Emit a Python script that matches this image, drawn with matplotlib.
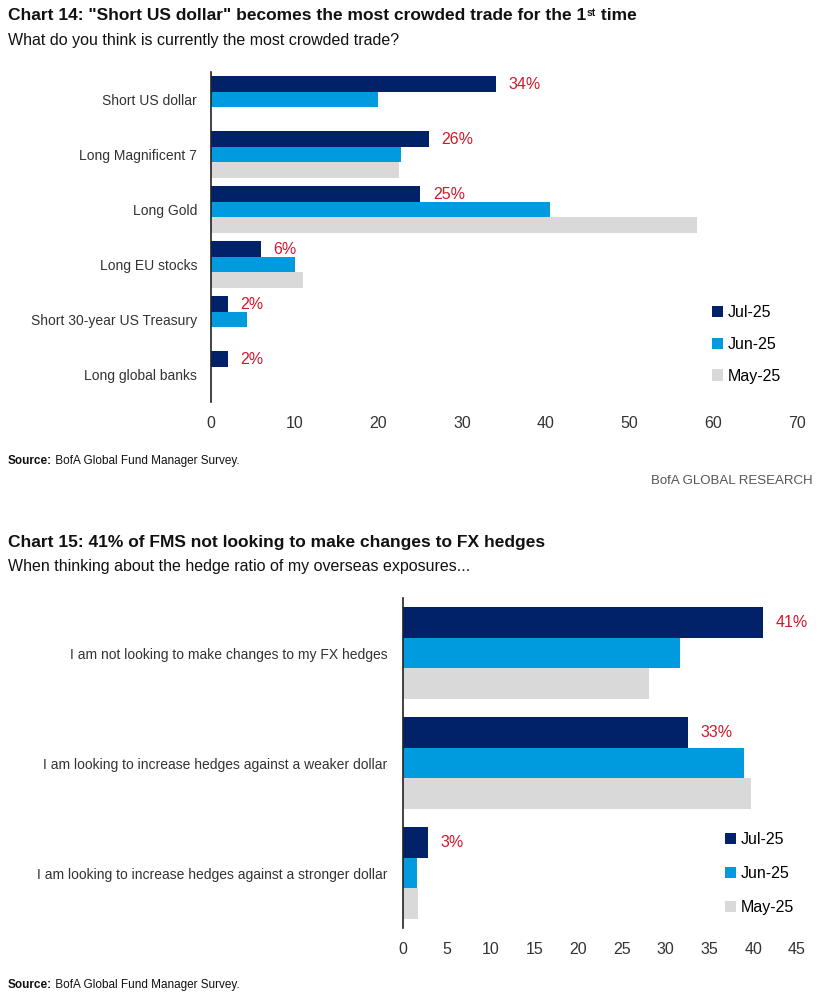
import numpy as np
import matplotlib
matplotlib.use("Agg")
import matplotlib.pyplot as plt

plt.rcParams['font.family'] = ['Liberation Sans', 'DejaVu Sans']

# datos grafico 14
trades = ["Short US dollar", "Long Magnificent 7", "Long Gold", "Long EU stocks",
          "Short 30-year US Treasury", "Long global banks"]
trades_jul = [34, 26, 25, 6, 2, 2]
trades_jun = [20, 22.7, 40.5, 10, 4.3, 0]
trades_may = [0, 22.5, 58, 11, 0, 0]
trades_lbl = ["34%", "26%", "25%", "6%", "2%", "2%"]

# datos grafico 15
hedges = ["I am not looking to make changes to my FX hedges",
          "I am looking to increase hedges against a weaker dollar",
          "I am looking to increase hedges against a stronger dollar"]
hedges_jul = [41.1, 32.6, 2.8]
hedges_jun = [31.6, 39.0, 1.6]
hedges_may = [28.1, 39.7, 1.7]
hedges_lbl = ["41%", "33%", "3%"]

series = ["Jul-25", "Jun-25", "May-25"]
colores = ["#012169", "#009ADE", "#D9D9D9"]
rojo = "#D2182C"
gris = "#333333"
negro = "#111111"

W, H = 820, 994
fig = plt.figure(figsize=(W / 100, H / 100), dpi=100)


def px_axes(l, t, r, b):
    return fig.add_axes([l / W, 1 - b / H, (r - l) / W, (b - t) / H])


def barras(ax, cats, jul, jun, may, lbl, xmax, step, ylab_pad):
    y = np.arange(len(cats))
    h = 0.28
    for k, vals in enumerate([jul, jun, may]):
        ax.barh(y + (k - 1) * h, vals, height=h, color=colores[k], label=series[k])
    for i, v in enumerate(jul):
        ax.annotate(lbl[i], xy=(v, y[i] - h), xytext=(9, 0), textcoords="offset points",
                    va="center", ha="left", color=rojo, fontsize=11.5)
    ax.set_ylim(len(cats) - 0.5, -0.5)
    ax.set_xlim(0, xmax)
    ax.set_xticks(np.arange(0, xmax + 1, step))
    ax.set_yticks(y)
    ax.set_yticklabels(cats)
    ax.tick_params(axis="x", length=0, pad=10, labelsize=11.5, labelcolor=gris)
    ax.tick_params(axis="y", length=0, pad=ylab_pad, labelsize=10, labelcolor=gris)
    for s in ["top", "right", "bottom"]:
        ax.spines[s].set_visible(False)
    ax.spines["left"].set_color("#222222")
    ax.spines["left"].set_linewidth(1.2)


def fuente(ax, y):
    t = fig.text(8 / W, 1 - y / H, "Source:", fontsize=8.5, fontweight="bold", va="center", color=negro)
    ax.annotate(" BofA Global Fund Manager Survey.", xy=(1, 0.5), xycoords=t, va="center", ha="left",
                fontsize=8.5, color=negro, annotation_clip=False)


# --- Chart 14 ---
ax1 = px_axes(211, 72, 797, 402)
barras(ax1, trades, trades_jul, trades_jun, trades_may, trades_lbl, 70, 10, 10)
ax1.legend(loc="upper left", bbox_to_anchor=(704 / W, 1 - 297 / H), bbox_transform=fig.transFigure,
           frameon=False, fontsize=11.5, handlelength=0.7, handleheight=0.7, handletextpad=0.3,
           labelspacing=1.05, borderpad=0)

t1 = fig.text(8 / W, 1 - 16 / H, "Chart 14: \"Short US dollar\" becomes the most crowded trade for the 1",
              fontsize=12.5, fontweight="bold", va="center", color=negro)
sup = ax1.annotate("st", xy=(1, 1), xycoords=t1, xytext=(0.5, 0), textcoords="offset points",
                   fontsize=7.5, fontweight="bold", va="top", ha="left", color=negro,
                   annotation_clip=False)
ax1.annotate(" time", xy=(1, 0), xycoords=(sup, t1), xytext=(0, 0), textcoords="offset points",
             fontsize=12.5, fontweight="bold", va="bottom", ha="left", color=negro,
             annotation_clip=False)
fig.text(8 / W, 1 - 40 / H, "What do you think is currently the most crowded trade?",
         fontsize=11.5, va="center", color=negro)

fuente(ax1, 461)
fig.text(813 / W, 1 - 481 / H, "BofA GLOBAL RESEARCH", fontsize=9.5, va="center", ha="right", color="#555555")

# --- Chart 15 ---
ax2 = px_axes(403, 598, 797, 928)
barras(ax2, hedges, hedges_jul, hedges_jun, hedges_may, hedges_lbl, 45, 5, 11)
ax2.legend(loc="upper left", bbox_to_anchor=(717 / W, 1 - 824 / H), bbox_transform=fig.transFigure,
           frameon=False, fontsize=11.5, handlelength=0.7, handleheight=0.7, handletextpad=0.3,
           labelspacing=1.2, borderpad=0)

fig.text(8 / W, 1 - 543 / H, "Chart 15: 41% of FMS not looking to make changes to FX hedges",
         fontsize=12.5, fontweight="bold", va="center", color=negro)
fig.text(8 / W, 1 - 566 / H, "When thinking about the hedge ratio of my overseas exposures...",
         fontsize=11.5, va="center", color=negro)

fuente(ax2, 985)

fig.savefig("out.png", dpi=100, facecolor="white")
